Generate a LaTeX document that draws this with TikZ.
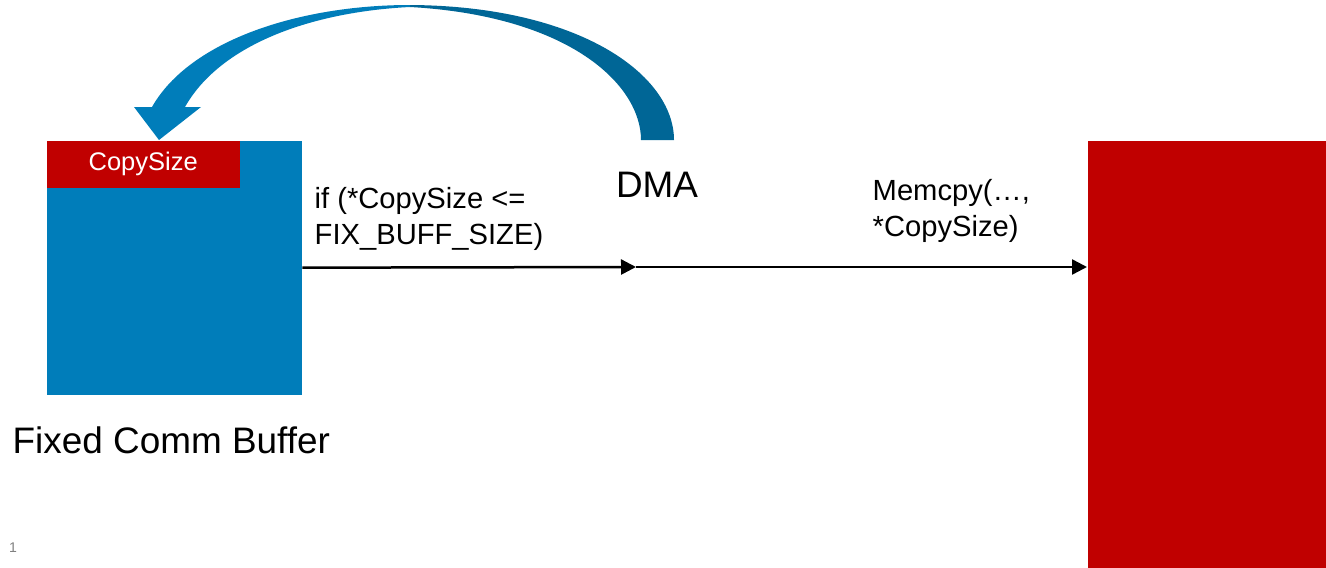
\documentclass[tikz,border=0pt]{standalone}
\usepackage{fontspec}
\setmainfont{Liberation Sans}
\usepackage{tikz}
\usetikzlibrary{arrows.meta,positioning}
\definecolor{bufblue}{RGB}{0,125,186}
\definecolor{dmablue}{RGB}{0,102,150}
\definecolor{sizered}{RGB}{192,0,0}

\begin{document}
\begin{tikzpicture}[x=0.02cm,y=-0.02cm]
				\tikzstyle{every path}=[thick]

				\tikzstyle{buffer}=[fill=bufblue,inner sep=0pt,minimum width=5.1cm,minimum height=5.08cm,anchor=north west]
				\tikzstyle{sizefield}=[fill=sizered,text=white,inner sep=0pt,minimum width=3.86cm,minimum height=0.94cm,anchor=north west,font=\fontsize{14.5}{16}\selectfont]
				\tikzstyle{target}=[fill=sizered,inner sep=0pt,minimum width=4.78cm,minimum height=8.56cm,anchor=north west]
				\tikzstyle{big}=[inner sep=0pt,font=\fontsize{21}{25}\selectfont]
				\tikzstyle{code}=[inner sep=0pt,align=left,font=\fontsize{16.6}{20.5}\selectfont]
				\tikzstyle{l} = [black,draw,line width=0.05cm,-{Triangle[length=0.3cm,width=0.3cm]}]
				\useasboundingbox (0,0) rectangle (1326,568);

				%% Draw buffers
				\node [buffer] (buf) at (46,140) {};
				\node [sizefield] (size) at (buf.north west) {CopySize};
				\node [target] (dst) at (1087,140) {};
				\coordinate (dma) at (636,267);

				%% Labels
				\node [big,anchor=west] (bufname) at (12,440) {Fixed Comm Buffer};
				\node [big] (dmaname) at (657,185) {DMA};
				\node [code,anchor=north west] (check) at (314,187) {if (*CopySize <=\\FIX\_BUFF\_SIZE)};
				\node [code,anchor=north west] (copy) at (872,179) {Memcpy(…,\\*CopySize)};
				\node [gray,inner sep=0pt,font=\fontsize{8}{9}\selectfont] (page) at (13,548) {1};

				%% Data path
				\draw [l] (buf.east) -- (dma);
				\draw [l] (dma) -- (dst.west |- dma);

				%% DMA arrow back into the buffer
				\fill [dmablue] (674,140) .. controls (674,75) and (580,6) .. (410,5)
				    -- (410,7) .. controls (570,16) and (641,85) .. (641,140) -- cycle;
				\fill [bufblue] (410,5) .. controls (300,5) and (190,40) .. (152,107)
				    -- (134,107) -- (159,140) -- (201,107) -- (185,107)
				    .. controls (220,45) and (310,12) .. (410,7) -- cycle;
\end{tikzpicture}
\end{document}
